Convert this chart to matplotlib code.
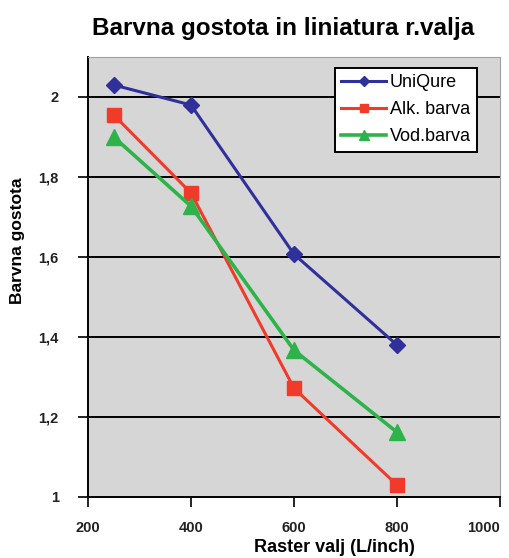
import matplotlib
matplotlib.use("Agg")
import matplotlib.pyplot as plt
from matplotlib.ticker import FuncFormatter

plt.rcParams['font.family'] = ['Liberation Sans', 'DejaVu Sans']

x = [250, 400, 600, 800]
unique = [2.03, 1.98, 1.607, 1.38]
alk = [1.955, 1.76, 1.272, 1.03]
vod = [1.90, 1.727, 1.367, 1.162]
series_names = ["UniQure", "Alk. barva", "Vod.barva"]
xticks = [200, 400, 600, 800, 1000]
yticks = [1, 1.2, 1.4, 1.6, 1.8, 2]

fig = plt.figure(figsize=(5.10, 5.58), dpi=100)
ax = fig.add_axes([88/510, 1-497/558, (500-88)/510, (497-57)/558])
ax.set_facecolor('#d6d6d6')

ax.plot(x, unique, color='#30309a', marker='D', markersize=8, lw=2.2, label=series_names[0], zorder=3)
ax.plot(x, alk, color='#f03a2a', marker='s', markersize=10, lw=2.2, label=series_names[1], zorder=3)
ax.plot(x, vod, color='#2eb34a', marker='^', markersize=11, lw=2.6, label=series_names[2], zorder=3)

ax.set_xlim(200, 1000)
ax.set_ylim(1, 2.1)
ax.set_xticks(xticks)
ax.set_yticks(yticks)
ax.yaxis.set_major_formatter(FuncFormatter(lambda v, p: ('%g' % round(v, 1)).replace('.', ',')))
for yv in yticks[1:]:
    ax.axhline(yv, color='black', lw=1.4, zorder=1)

for s in ['top', 'right']:
    ax.spines[s].set_color('#a0a0a0')
for s in ['left', 'bottom']:
    ax.spines[s].set_color('black')
    ax.spines[s].set_linewidth(1.4)
ax.tick_params(direction='out', length=7, width=1.4, labelsize=10.5, colors='#222222')
ax.tick_params(axis='x', pad=10)
ax.tick_params(axis='y', pad=14)
for lab in ax.get_xticklabels() + ax.get_yticklabels():
    lab.set_fontweight('bold')
ax.get_xticklabels()[-1].set_horizontalalignment('right')

ax.set_xlabel('Raster valj (L/inch)', fontsize=13, fontweight='bold', labelpad=2)
ax.xaxis.set_label_coords(0.597, -0.095)
ax.set_ylabel('Barvna gostota', fontsize=12.5, fontweight='bold', labelpad=14)
ax.yaxis.set_label_coords(-0.153, 0.582)
fig.text(0.555, 1-29/558, 'Barvna gostota in liniatura r.valja', ha='center', va='center',
         fontsize=17.5, fontweight='bold')

leg = ax.legend(loc='upper right', bbox_to_anchor=(0.945, 0.975), frameon=True, fancybox=False,
                edgecolor='black', facecolor='white', framealpha=1, fontsize=13,
                handlelength=2.5, handletextpad=0.2, borderpad=0.35, labelspacing=0.55, markerscale=0.6,
                borderaxespad=0)
leg.get_frame().set_linewidth(1.4)

fig.savefig('out.png', dpi=100)
